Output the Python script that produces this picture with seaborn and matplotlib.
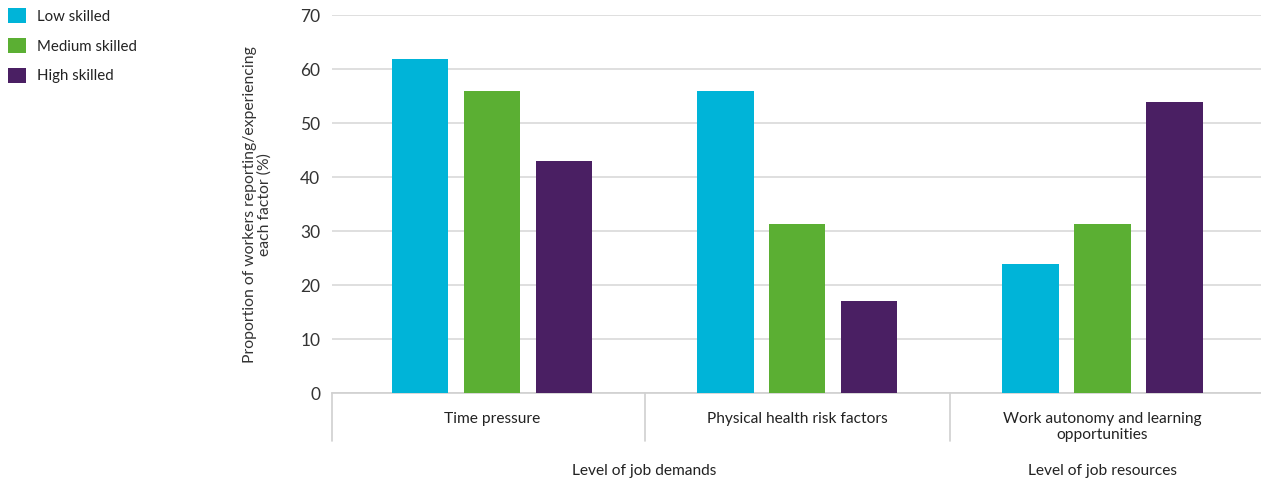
import matplotlib
matplotlib.use("Agg")
import matplotlib.pyplot as plt
import matplotlib.transforms as mtransforms
from matplotlib.patches import Patch
import pandas as pd
import seaborn as sns

categories = ["Time pressure", "Physical health risk factors",
              "Work autonomy and learning\nopportunities"]
skill_levels = ["Low skilled", "Medium skilled", "High skilled"]
low_skilled = [62, 56, 24]
medium_skilled = [56, 31.3, 31.3]
high_skilled = [43, 17, 54]
group_labels = ["Level of job demands", "Level of job resources"]
y_ticks = [0, 10, 20, 30, 40, 50, 60, 70]

colors = ["#00B4D8", "#5BAF33", "#4A1F63"]

df = pd.DataFrame({
    "category": categories * 3,
    "skill": [s for s in skill_levels for _ in categories],
    "value": low_skilled + medium_skilled + high_skilled,
})

sns.set_theme(style="white")
plt.rcParams["font.family"] = ["Lato", "DejaVu Sans"]

fig = plt.figure(figsize=(12.61, 4.80), dpi=100)
ax = fig.add_axes([0.2633, 0.18125, 0.7367, 0.7865])

sns.barplot(data=df, x="category", y="value", hue="skill", order=categories,
            hue_order=skill_levels, palette=colors, width=0.708, gap=0.21,
            saturation=1, ax=ax, legend=False, zorder=3, linewidth=0)

ax.set_ylim(0, 70)
ax.set_xlim(-0.5246, 2.521)
ax.set_yticks(y_ticks)
ax.set_yticklabels([str(t) for t in y_ticks], fontsize=12.5, color="#333333")
ax.yaxis.grid(True, color="#d9d9d9", linewidth=1.2, zorder=0)
ax.set_axisbelow(True)
for side in ["left", "right", "top"]:
    ax.spines[side].set_visible(False)
ax.spines["bottom"].set_color("#d0d0d0")
ax.spines["bottom"].set_linewidth(1.2)
ax.tick_params(axis="y", length=0, pad=8.5)
ax.tick_params(axis="x", length=7, width=1.2, color="#d0d0d0", pad=6.5,
               labelsize=11.2, labelcolor="#222222")
for lbl in ax.get_xticklabels():
    lbl.set_verticalalignment("top")
    lbl.set_linespacing(1.25)

ax.set_xlabel("")
ax.set_ylabel("Proportion of workers reporting/experiencing\neach factor (%)",
              fontsize=11.3, color="#333333", linespacing=1.05)
ax.yaxis.set_label_coords(-0.065, 0.5)

# category separators below the axis
trans = mtransforms.blended_transform_factory(ax.transData, ax.transAxes)
for xpos in [-0.5246, 0.5, 1.5]:
    ax.plot([xpos, xpos], [0, -0.127], transform=trans, color="#d0d0d0",
            linewidth=1.2, clip_on=False)

# group labels
ax.text(0.5, -0.207, group_labels[0], transform=trans, ha="center",
        va="center", fontsize=11.2, color="#222222")
ax.text(2.0, -0.207, group_labels[1], transform=trans, ha="center",
        va="center", fontsize=11.2, color="#222222")

handles = [Patch(facecolor=c, edgecolor="none") for c in colors]
fig.legend(handles, skill_levels, loc="upper left",
           bbox_to_anchor=(0.0, 1.0), frameon=False, fontsize=10.8,
           handlelength=1.15, handleheight=1.15, handletextpad=0.75,
           labelspacing=0.95, borderaxespad=0.0, borderpad=0.55,
           labelcolor="#222222")

fig.savefig("out.png", dpi=100, facecolor="white")
